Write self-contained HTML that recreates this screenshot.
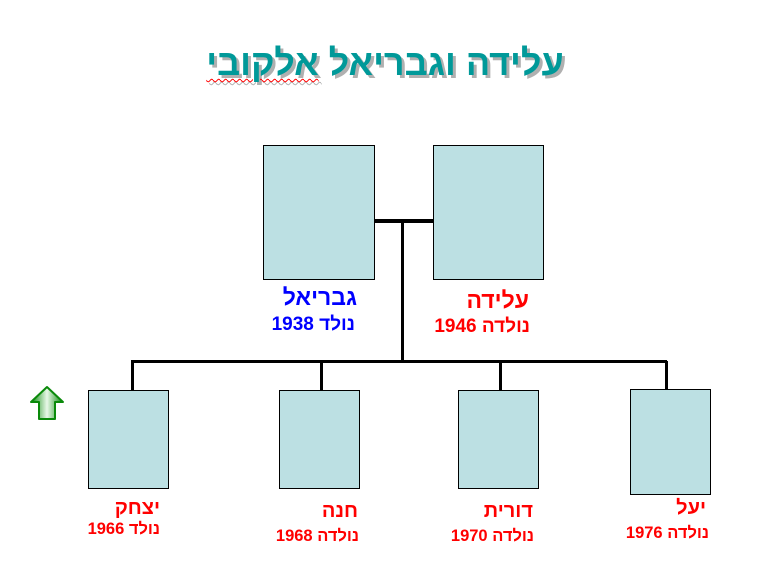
<!DOCTYPE html>
<html><head><meta charset="utf-8"><style>
html,body{margin:0;padding:0;background:#fff;}
body{width:770px;height:577px;position:relative;overflow:hidden;font-family:"Liberation Sans","Noto Sans CJK SC",sans-serif;}
.b{position:absolute;background:#bce0e3;border:1px solid #000;box-sizing:border-box;}
.l{position:absolute;background:#000;}
.t{position:absolute;direction:rtl;white-space:nowrap;font-weight:bold;text-align:right;line-height:1.15;}
.n{font-size:23px;}
.d{font-size:19px;}
.cn{font-size:20px;}
.cd{font-size:16.5px;}
.blue{color:#0000ff;}
.red{color:#ff0000;}
</style></head><body>
<div class="t" style="left:0;width:770px;text-align:center;top:42px;font-size:36px;color:#009999;text-shadow:3px 3px 0 #b0b0b0;direction:rtl;">עלידה וגבריאל <span style="text-decoration:underline wavy #ff0000 1px;text-underline-offset:3px;">אלקובי</span></div>

<div class="b" style="left:263px;top:145px;width:112px;height:135px;"></div>
<div class="b" style="left:433px;top:145px;width:111px;height:135px;"></div>
<div class="l" style="left:375px;top:219px;width:58px;height:4px;"></div>
<div class="l" style="left:401px;top:221px;width:3px;height:141px;"></div>
<div class="l" style="left:131px;top:360px;width:536px;height:3px;"></div>
<div class="l" style="left:131px;top:361px;width:3px;height:30px;"></div>
<div class="l" style="left:320px;top:361px;width:3px;height:30px;"></div>
<div class="l" style="left:499px;top:361px;width:3px;height:30px;"></div>
<div class="l" style="left:665px;top:361px;width:3px;height:29px;"></div>

<div class="b" style="left:88px;top:390px;width:81px;height:99px;"></div>
<div class="b" style="left:279px;top:390px;width:81px;height:99px;"></div>
<div class="b" style="left:458px;top:390px;width:81px;height:99px;"></div>
<div class="b" style="left:630px;top:389px;width:81px;height:106px;"></div>

<div class="t n blue" style="right:413px;top:284px;">גבריאל</div>
<div class="t d blue" style="right:415px;top:314px;">נולד 1938</div>
<div class="t n red" style="right:241px;top:287px;">עלידה</div>
<div class="t d red" style="right:240px;top:316px;">נולדה 1946</div>

<div class="t cn red" style="right:610px;top:497px;">יצחק</div>
<div class="t cd red" style="right:610px;top:520px;">נולד 1966</div>
<div class="t cn red" style="right:412px;top:500px;">חנה</div>
<div class="t cd red" style="right:411px;top:527px;">נולדה 1968</div>
<div class="t cn red" style="right:237px;top:500px;">דורית</div>
<div class="t cd red" style="right:236px;top:527px;">נולדה 1970</div>
<div class="t cn red" style="right:64px;top:497px;">יעל</div>
<div class="t cd red" style="right:61px;top:524px;">נולדה 1976</div>

<svg style="position:absolute;left:28px;top:385px;" width="38" height="36" viewBox="0 0 38 36">
<defs><linearGradient id="g" x1="0" y1="0" x2="1" y2="0"><stop offset="0" stop-color="#0a8a0a"/><stop offset="0.5" stop-color="#e8f8e8"/><stop offset="1" stop-color="#0a8a0a"/></linearGradient></defs>
<path d="M19 2 L35 17 L27 17 L27 34 L11 34 L11 17 L3 17 Z" fill="url(#g)" stroke="#0a8a0a" stroke-width="2" stroke-linejoin="round"/>
</svg>
</body></html>
